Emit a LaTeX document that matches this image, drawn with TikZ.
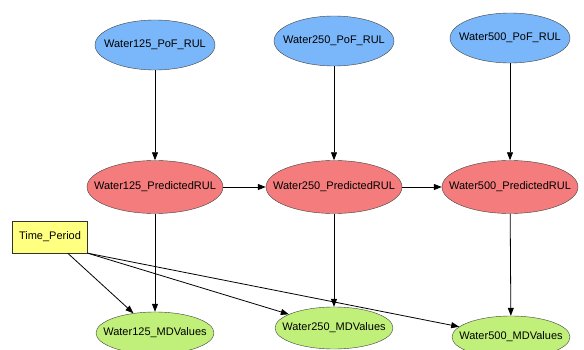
\documentclass[tikz,border=0pt]{standalone}
\usepackage{fontspec}
\setmainfont{Liberation Sans}
\usepackage{xcolor}
\usepackage{tikz}
\usetikzlibrary{arrows.meta,shapes.geometric}

\definecolor{pofblue}{RGB}{122,182,250}
\definecolor{predred}{RGB}{244,124,124}
\definecolor{mdgreen}{RGB}{192,240,122}
\definecolor{timeyellow}{RGB}{255,255,128}

\begin{document}
\begin{tikzpicture}[
  x=1pt, y=-1pt,
  font=\fontsize{11}{13}\selectfont,
  pof/.style={ellipse, draw=black!75, fill=pofblue, inner xsep=-20pt,
              minimum width=120pt, minimum height=50pt},
  pred/.style={ellipse, draw=black!75, fill=predred, inner xsep=-20pt,
               minimum width=136pt, minimum height=53pt},
  mdval/.style={ellipse, draw=black!75, fill=mdgreen, inner xsep=-20pt,
                minimum width=118pt, minimum height=42pt},
  timebox/.style={rectangle, draw=black!80, fill=timeyellow,
                  minimum width=75pt, minimum height=32pt},
  arrow/.style={-{Triangle[length=8pt,width=6pt]}, line width=0.8pt}
]
\useasboundingbox (0,0) rectangle (584,350);

% top row
\node[pof] (pof125) at (155,45) {Water125\_PoF\_RUL};
\node[pof] (pof250) at (334,41) {Water250\_PoF\_RUL};
\node[pof] (pof500) at (510,38) {Water500\_PoF\_RUL};

% predicted RUL
\node[pred] (pred125) at (155,187) {Water125\_PredictedRUL};
\node[pred] (pred250) at (334,187) {Water250\_PredictedRUL};
\node[pred] (pred500) at (510,187) {Water500\_PredictedRUL};

% MD values
\node[timebox] (period) at (50,237) {Time\_Period};
\node[mdval] (md125) at (155,333) {Water125\_MDValues};
\node[mdval] (md250) at (334,328) {Water250\_MDValues};
\node[mdval] (md500) at (511,337) {Water500\_MDValues};

\draw[arrow] (pof125) -- (pred125);
\draw[arrow] (pof250) -- (pred250);
\draw[arrow] (pof500) -- (pred500);
\draw[arrow] (pred125) -- (pred250);
\draw[arrow] (pred250) -- (pred500);
\draw[arrow] (pred125) -- (md125);
\draw[arrow] (pred250) -- (md250);
\draw[arrow] (pred500) -- (md500);
\draw[arrow] (period) -- (md125);
\draw[arrow] (period.south east) -- (md250);
\draw[arrow] (period.south east) -- (md500);

\end{tikzpicture}
\end{document}
